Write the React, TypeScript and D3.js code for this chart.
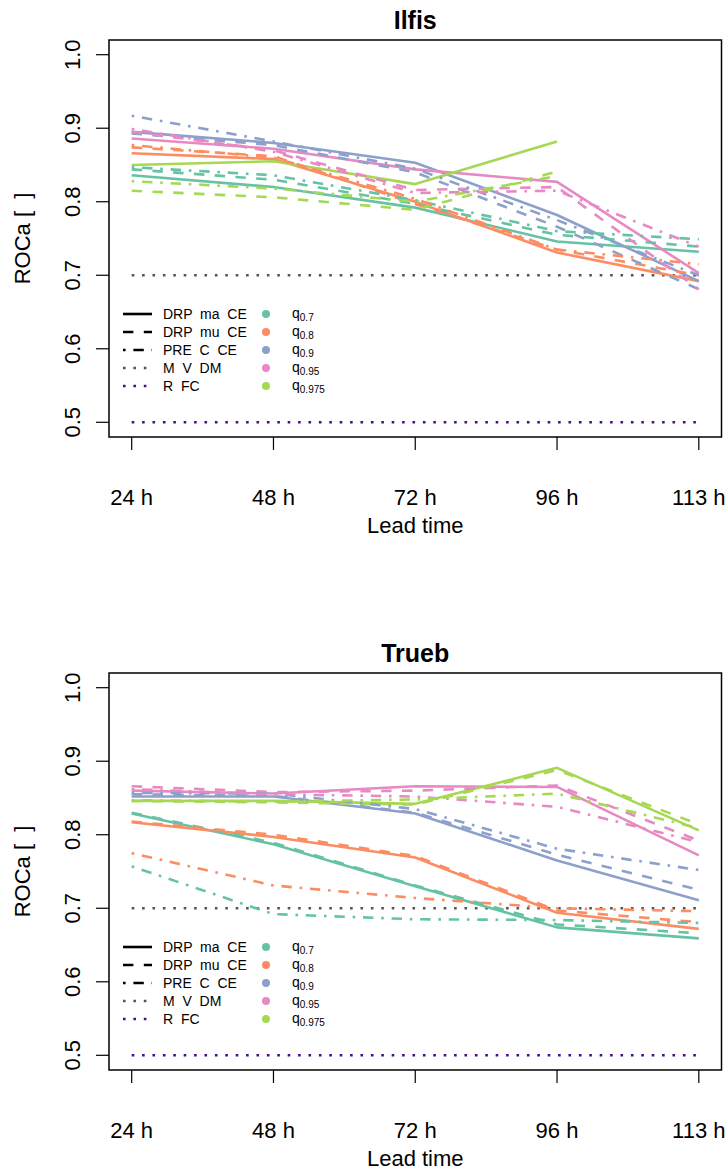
import React from "react";
import * as d3 from "d3";

const W = 727;
const H = 1170;

const LEAD_TIMES = ["24 h", "48 h", "72 h", "96 h", "113 h"];
const Y_TICKS = [0.5, 0.6, 0.7, 0.8, 0.9, 1.0];
const QUANTILES = ["0.7", "0.8", "0.9", "0.95", "0.975"];
const Q_COLORS = ["#66C2A5", "#FC8D62", "#8DA0CB", "#E78AC3", "#A6D854"];
const MODEL_NAMES = ["DRP  ma  CE", "DRP  mu  CE", "PRE  C  CE", "M  V  DM", "R  FC"];
const MODEL_DASH = ["solid", "dashed", "dotdash", "dotted", "dotted"];
const REF_COLORS = ["#555555", "#4B0C8C"];

// Ilfis: rows = quantiles q0.7 .. q0.975, columns = lead times
const ilfisMa: (number | null)[][] = [
  [0.836, 0.820, 0.792, 0.746, 0.732],
  [0.866, 0.858, 0.800, 0.731, 0.692],
  [0.895, 0.880, 0.853, 0.782, 0.692],
  [0.886, 0.872, 0.844, 0.827, 0.703],
  [0.850, 0.855, 0.824, 0.882, null],
];
const ilfisMu: (number | null)[][] = [
  [0.844, 0.830, 0.797, 0.755, 0.739],
  [0.874, 0.862, 0.797, 0.735, 0.700],
  [0.893, 0.877, 0.840, 0.766, 0.681],
  [0.895, 0.870, 0.816, 0.820, 0.681],
  [0.815, 0.806, 0.789, 0.841, null],
];
const ilfisPre: (number | null)[][] = [
  [0.847, 0.836, 0.802, 0.760, 0.749],
  [0.877, 0.860, 0.804, 0.735, 0.715],
  [0.917, 0.882, 0.845, 0.775, 0.700],
  [0.899, 0.868, 0.812, 0.815, 0.739],
  [0.828, 0.818, 0.800, 0.835, null],
];
const ilfisMvdm = [0.7, 0.7, 0.7, 0.7, 0.7];
const ilfisRfc = [0.5, 0.5, 0.5, 0.5, 0.5];

// Trueb
const truebMa: (number | null)[][] = [
  [0.829, 0.787, 0.730, 0.674, 0.659],
  [0.817, 0.797, 0.769, 0.694, 0.672],
  [0.852, 0.852, 0.829, 0.765, 0.711],
  [0.860, 0.856, 0.866, 0.865, 0.772],
  [0.846, 0.846, 0.842, 0.891, 0.806],
];
const truebMu: (number | null)[][] = [
  [0.830, 0.789, 0.731, 0.678, 0.666],
  [0.818, 0.800, 0.771, 0.697, 0.681],
  [0.855, 0.853, 0.830, 0.773, 0.725],
  [0.866, 0.858, 0.860, 0.867, 0.792],
  [0.846, 0.844, 0.841, 0.888, 0.814],
];
const truebPre: (number | null)[][] = [
  [0.757, 0.692, 0.685, 0.684, 0.680],
  [0.775, 0.731, 0.714, 0.700, 0.696],
  [0.857, 0.856, 0.835, 0.781, 0.752],
  [0.862, 0.855, 0.852, 0.838, 0.790],
  [0.847, 0.845, 0.848, 0.856, 0.809],
];
const truebMvdm = [0.7, 0.7, 0.7, 0.7, 0.7];
const truebRfc = [0.5, 0.5, 0.5, 0.5, 0.5];

const LW = 2.6;
function dashArray(kind: string, lw: number): string | undefined {
  if (kind === "dashed") return `${4 * lw},${4 * lw}`;
  if (kind === "dotted") return `${1 * lw},${3 * lw}`;
  if (kind === "dotdash") return `${1 * lw},${3 * lw},${4 * lw},${3 * lw}`;
  return undefined;
}

const FONT = "'Liberation Sans', Arial, Helvetica, sans-serif";
const AXIS_FS = 22;

type PanelProps = {
  title: string;
  ma: (number | null)[][];
  mu: (number | null)[][];
  pre: (number | null)[][];
  mvdm: number[];
  rfc: number[];
  offsetY: number;
};

function Panel({ title, ma, mu, pre, mvdm, rfc, offsetY }: PanelProps) {
  const left = 109;
  const right = 721.5;
  const top = 40 + offsetY;
  const bottom = 437 + offsetY;
  const n = LEAD_TIMES.length;
  const pad = (n - 1) * 0.04;
  const x = d3.scaleLinear().domain([-pad, n - 1 + pad]).range([left, right]);
  const y = d3.scaleLinear().domain([0.48, 1.02]).range([bottom, top]);
  const line = d3
    .line<number | null>()
    .defined((d) => d !== null)
    .x((_, i) => x(i))
    .y((d) => y(d as number));

  const models = [ma, mu, pre];
  const legendX = 123;
  const legendY0 = 314 + offsetY;
  const rowH = 18;

  return (
    <g>
      <text
        x={(left + right) / 2}
        y={29 + offsetY}
        textAnchor="middle"
        fontFamily={FONT}
        fontWeight="bold"
        fontSize={25}
      >
        {title}
      </text>
      {/* reference lines */}
      <path
        d={line(mvdm) || ""}
        fill="none"
        stroke={REF_COLORS[0]}
        strokeWidth={LW}
        strokeDasharray={dashArray("dotted", LW)}
      />
      <path
        d={line(rfc) || ""}
        fill="none"
        stroke={REF_COLORS[1]}
        strokeWidth={LW}
        strokeDasharray={dashArray("dotted", LW)}
      />
      {models.map((m, mi) =>
        m.map((series, qi) => (
          <path
            key={`${mi}-${qi}`}
            d={line(series) || ""}
            fill="none"
            stroke={Q_COLORS[qi]}
            strokeWidth={LW}
            strokeDasharray={dashArray(MODEL_DASH[mi], LW)}
            strokeLinejoin="round"
          />
        ))
      )}
      {/* box */}
      <rect x={left} y={top} width={right - left} height={bottom - top} fill="none" stroke="#000" strokeWidth={1.5} />
      {/* y axis */}
      {Y_TICKS.map((t) => (
        <g key={t}>
          <line x1={left} x2={left - 13} y1={y(t)} y2={y(t)} stroke="#000" strokeWidth={1.2} />
          <text
            transform={`translate(${80},${y(t)}) rotate(-90)`}
            textAnchor="middle"
            fontFamily={FONT}
            fontSize={AXIS_FS}
          >
            {t.toFixed(1)}
          </text>
        </g>
      ))}
      {/* x axis */}
      {LEAD_TIMES.map((lab, i) => (
        <g key={lab}>
          <line x1={x(i)} x2={x(i)} y1={bottom} y2={bottom + 13} stroke="#000" strokeWidth={1.2} />
          <text x={x(i)} y={bottom + 68} textAnchor="middle" fontFamily={FONT} fontSize={AXIS_FS}>
            {lab}
          </text>
        </g>
      ))}
      <text x={(left + right) / 2} y={bottom + 96} textAnchor="middle" fontFamily={FONT} fontSize={AXIS_FS}>
        Lead time
      </text>
      <text
        transform={`translate(${30},${(top + bottom) / 2}) rotate(-90)`}
        textAnchor="middle"
        fontFamily={FONT}
        fontSize={AXIS_FS}
        style={{ whiteSpace: "pre" }}
      >
        {"ROCa [  ]"}
      </text>
      {/* legend */}
      {MODEL_NAMES.map((name, i) => {
        const yy = legendY0 + i * rowH;
        const color = i < 3 ? "#000" : REF_COLORS[i - 3];
        return (
          <g key={name}>
            <line
              x1={legendX}
              x2={legendX + 29}
              y1={yy}
              y2={yy}
              stroke={color}
              strokeWidth={LW}
              strokeDasharray={dashArray(MODEL_DASH[i], LW)}
            />
            <text x={163} y={yy + 5} fontFamily={FONT} fontSize={14} style={{ whiteSpace: "pre" }}>
              {name}
            </text>
          </g>
        );
      })}
      {QUANTILES.map((q, i) => {
        const yy = legendY0 + i * rowH;
        return (
          <g key={q}>
            <circle cx={266} cy={yy} r={4} fill={Q_COLORS[i]} />
            <text x={292} y={yy + 4} fontFamily={FONT} fontSize={14}>
              q
              <tspan fontSize={10} dy={3}>
                {q}
              </tspan>
            </text>
          </g>
        );
      })}
    </g>
  );
}

export default function App() {
  return (
    <svg
      width={W}
      height={H}
      viewBox={`0 0 ${W} ${H}`}
      style={{ position: "absolute", left: 0, top: 0, background: "#fff" }}
    >
      <rect x={0} y={0} width={W} height={H} fill="#fff" />
      <Panel title="Ilfis" ma={ilfisMa} mu={ilfisMu} pre={ilfisPre} mvdm={ilfisMvdm} rfc={ilfisRfc} offsetY={0} />
      <Panel title="Trueb" ma={truebMa} mu={truebMu} pre={truebPre} mvdm={truebMvdm} rfc={truebRfc} offsetY={633} />
    </svg>
  );
}
